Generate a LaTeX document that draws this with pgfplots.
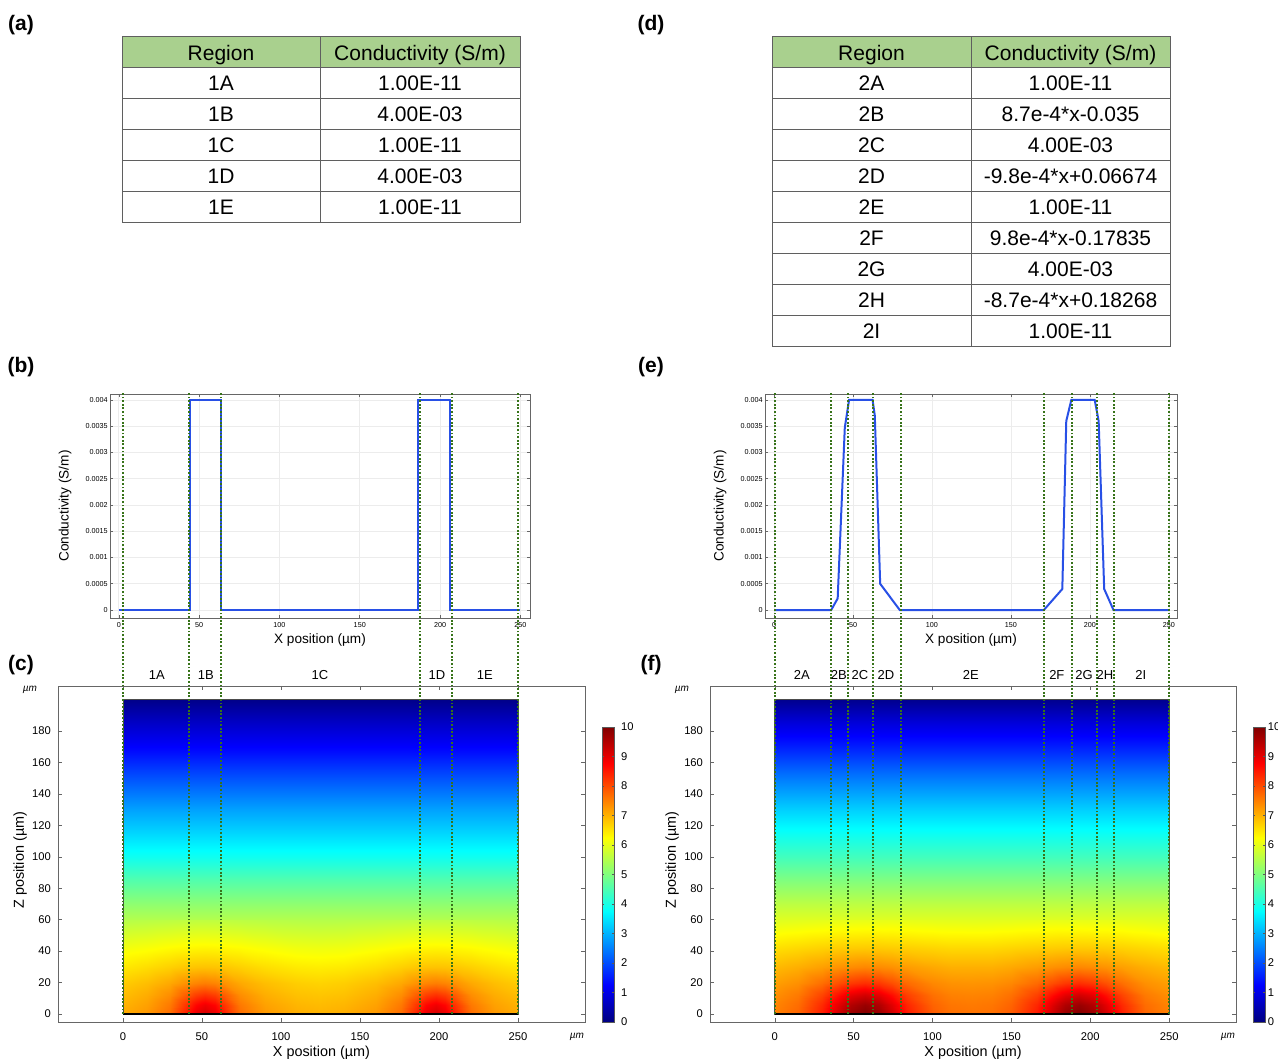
\documentclass[border=0pt]{standalone}
\usepackage{fontspec}
\setmainfont{Liberation Sans}
\usepackage{pgfplots}
\pgfplotsset{compat=1.18}
\definecolor{hdr}{RGB}{169,208,142}
\definecolor{tline}{RGB}{95,95,95}
\definecolor{dotg}{RGB}{55,115,25}
\definecolor{cline}{RGB}{40,80,230}
\pgfplotsset{
 prof/.style={scale only axis, height=112pt, ymin=-0.000152, ymax=0.004114,
  xtick={0,50,100,150,200,250},
  ytick={0,0.0005,0.001,0.0015,0.002,0.0025,0.003,0.0035,0.004},
  yticklabels={0,0.0005,0.001,0.0015,0.002,0.0025,0.003,0.0035,0.004},
  scaled y ticks=false,
  grid=major, grid style={gray!15},
  axis line style={gray!80!black}, tick style={gray!80!black, line width=0.3pt},
  major tick length=1.5pt,
  tick label style={font=\fontsize{3.6}{4}\selectfont, inner sep=1pt},
  xticklabel style={yshift=-1pt},
  /pgf/number format/assume math mode=true,
  label style={font=\fontsize{6.8}{8}\selectfont},
  xlabel={X position (µm)}, ylabel={Conductivity (S/m)},
  xlabel style={at={(axis description cs:0.5,0)}, anchor=center, yshift=-11pt},
 },
 heat/.style={scale only axis, width=263.5pt, height=168pt, xmin=-41.1, xmax=292.4, ymin=-5.1, ymax=208.7,
  xtick={0,50,100,150,200,250}, ytick={0,20,...,180},
  axis line style={gray!80!black}, tick style={gray!80!black, line width=0.3pt}, major tick length=2pt,
  tick label style={font=\fontsize{5.6}{6}\selectfont},
  xticklabel style={yshift=-2pt},
  /pgf/number format/assume math mode=true,
  label style={font=\fontsize{7.2}{8}\selectfont},
  xlabel={X position (µm)}, ylabel={Z position (µm)},
  xlabel style={at={(axis description cs:0.5,0)}, anchor=center, yshift=-15.5pt},
  ylabel style={at={(axis description cs:-0.072,0.482)}, anchor=center},
  colormap/jet, point meta min=0, point meta max=10,
  colorbar, colorbar style={at={([xshift=6.5pt,yshift=-1pt]parent axis.south east)}, anchor=south west,
    scale only axis, width=6pt, height=147.5pt, ytick={0,1,...,10},
    yticklabel style={font=\fontsize{5.6}{6}\selectfont},
    /pgf/number format/assume math mode=true,
    axis line style={gray!70!black}, major tick length=1.2pt, tick style={gray!70!black}},
  clip=false,
 },
 surfst/.style={surf, shader=interp, point meta=explicit, forget plot},
 dl/.style={dotg, line width=0.9pt, dash pattern=on 0.9pt off 0.9pt, forget plot},
}
\tikzset{tt/.style={font=\fontsize{10.5}{12}\selectfont, anchor=base, inner sep=0pt},
 pl/.style={font=\bfseries\fontsize{10.5}{12}\selectfont, inner sep=0pt},
 rl/.style={font=\fontsize{6.5}{7}\selectfont, inner sep=0pt},
 um/.style={font=\itshape\fontsize{5}{5}\selectfont, inner sep=0pt}}
\begin{document}
\begin{tikzpicture}
\useasboundingbox (0,0) rectangle (639pt,531.5pt);
\begin{scope}[x=0.5pt,y=-0.5pt,shift={(0pt,531.5pt)}]
% panel labels
\node[pl] at (21,25) {(a)};
\node[pl] at (21,367) {(b)};
\node[pl] at (21,665) {(c)};
\node[pl] at (651,25) {(d)};
\node[pl] at (651,367) {(e)};
\node[pl] at (651,665) {(f)};
% table (a)
\fill[hdr] (122,37) rectangle (520,68);
\foreach \y in {68,99,130,161,192} \draw[tline, line width=0.5pt] (122,\y) -- (520,\y);
\draw[tline, line width=0.5pt] (122,37) rectangle (520,223);
\draw[tline, line width=0.5pt] (320,37) -- (320,223);
\node[tt] at (221,60.5) {Region};
\node[tt] at (420,60.5) {Conductivity (S/m)};
\foreach \r/\v [count=\i from 0] in {1A/1.00E-11,1B/4.00E-03,1C/1.00E-11,1D/4.00E-03,1E/1.00E-11}{
  \node[tt] at (221,{91+31*\i}) {\r};
  \node[tt] at (420,{91+31*\i}) {\v};
}
% table (d)
\fill[hdr] (772,37) rectangle (1170,68);
\foreach \y in {68,99,130,161,192,223,254,285,316} \draw[tline, line width=0.5pt] (772,\y) -- (1170,\y);
\draw[tline, line width=0.5pt] (772,37) rectangle (1170,347);
\draw[tline, line width=0.5pt] (971,37) -- (971,347);
\node[tt] at (871.5,60.5) {Region};
\node[tt] at (1070.5,60.5) {Conductivity (S/m)};
\foreach \r/\v [count=\i from 0] in {2A/1.00E-11,2B/8.7e-4*x-0.035,2C/4.00E-03,2D/-9.8e-4*x+0.06674,2E/1.00E-11,2F/9.8e-4*x-0.17835,2G/4.00E-03,2H/-8.7e-4*x+0.18268,2I/1.00E-11}{
  \node[tt] at (871.5,{91+31*\i}) {\r};
  \node[tt] at (1070.5,{91+31*\i}) {\v};
}
\end{scope}

% (b)
\begin{axis}[prof, at={(55pt,222.5pt)}, anchor=south west, width=210pt, xmin=-5.5, xmax=256,
  ylabel style={at={(axis description cs:-0.107,0.5)}, anchor=center}]
\addplot[cline, line width=1pt] coordinates {(0,0) (44.3,0) (44.3,0.004) (63.8,0.004) (63.8,0) (186.5,0) (186.5,0.004) (206,0.004) (206,0) (250,0)};
\end{axis}

% (e)
\begin{axis}[prof, at={(382.5pt,222.5pt)}, anchor=south west, width=206pt, xmin=-5.7, xmax=255.1,
  ylabel style={at={(axis description cs:-0.109,0.5)}, anchor=center}]
\addplot[cline, line width=1pt] coordinates {(0,0) (36.2,0) (40.3,0.00022) (44.8,0.00347) (47.5,0.004) (62.4,0.004) (63.8,0.0037) (67.2,0.0005) (79.6,0) (170.8,0) (182.5,0.0004) (185,0.0036) (188.2,0.004) (203,0.004) (205.5,0.0036) (209,0.0004) (214.9,0) (250,0)};
\end{axis}

% (c)
\begin{axis}[heat, at={(29pt,20.5pt)}, anchor=south west]
\addplot[surfst, mesh/cols=2] table[row sep=\\, meta=v] {x y v\\
0 60 5.52\\250 60 5.52\\0 70 5.15\\250 70 5.15\\0 85 4.55\\250 85 4.55\\0 100 3.9\\250 100 3.9\\
0 115 3.35\\250 115 3.35\\0 130 2.85\\250 130 2.85\\0 150 2.05\\250 150 2.05\\0 170 1.25\\250 170 1.25\\
0 185 0.7\\250 185 0.7\\0 200 0.1\\250 200 0.1\\};
\addplot[surfst, mesh/cols=23] table[row sep=\\, meta=v] {x y v\\
0 0 7.08\\15 0 7.27\\30 0 7.69\\40 0 8.46\\46 0 8.98\\52 0 9.20\\58 0 8.98\\64 0 8.46\\74 0 7.69\\90 0 7.26\\110 0 7.05\\125 0 7.00\\140 0 7.05\\160 0 7.26\\176 0 7.69\\186 0 8.46\\192 0 8.98\\198 0 9.20\\204 0 8.98\\210 0 8.46\\220 0 7.69\\235 0 7.27\\250 0 7.08\\
0 6 7.00\\15 6 7.18\\30 6 7.57\\40 6 8.25\\46 6 8.71\\52 6 8.90\\58 6 8.71\\64 6 8.25\\74 6 7.57\\90 6 7.17\\110 6 6.97\\125 6 6.92\\140 6 6.97\\160 6 7.17\\176 6 7.57\\186 6 8.25\\192 6 8.71\\198 6 8.90\\204 6 8.71\\210 6 8.25\\220 6 7.57\\235 6 7.18\\250 6 7.00\\
0 12 6.89\\15 12 7.06\\30 12 7.37\\40 12 7.85\\46 12 8.15\\52 12 8.28\\58 12 8.15\\64 12 7.85\\74 12 7.37\\90 12 7.05\\110 12 6.86\\125 12 6.82\\140 12 6.86\\160 12 7.05\\176 12 7.37\\186 12 7.85\\192 12 8.15\\198 12 8.28\\204 12 8.15\\210 12 7.85\\220 12 7.37\\235 12 7.06\\250 12 6.89\\
0 20 6.75\\15 20 6.89\\30 20 7.10\\40 20 7.33\\46 20 7.45\\52 20 7.51\\58 20 7.45\\64 20 7.33\\74 20 7.10\\90 20 6.89\\110 20 6.73\\125 20 6.68\\140 20 6.73\\160 20 6.89\\176 20 7.10\\186 20 7.33\\192 20 7.45\\198 20 7.51\\204 20 7.45\\210 20 7.33\\220 20 7.10\\235 20 6.89\\250 20 6.75\\
0 30 6.47\\15 30 6.58\\30 30 6.71\\40 30 6.80\\46 30 6.83\\52 30 6.84\\58 30 6.83\\64 30 6.80\\74 30 6.71\\90 30 6.57\\110 30 6.45\\125 30 6.42\\140 30 6.45\\160 30 6.57\\176 30 6.71\\186 30 6.80\\192 30 6.83\\198 30 6.84\\204 30 6.83\\210 30 6.80\\220 30 6.71\\235 30 6.58\\250 30 6.47\\
0 42 6.13\\15 42 6.20\\30 42 6.28\\40 42 6.32\\46 42 6.34\\52 42 6.35\\58 42 6.34\\64 42 6.32\\74 42 6.28\\90 42 6.20\\110 42 6.11\\125 42 6.09\\140 42 6.11\\160 42 6.20\\176 42 6.28\\186 42 6.32\\192 42 6.34\\198 42 6.35\\204 42 6.34\\210 42 6.32\\220 42 6.28\\235 42 6.20\\250 42 6.13\\
0 60 5.53\\15 60 5.56\\30 60 5.59\\40 60 5.61\\46 60 5.62\\52 60 5.62\\58 60 5.62\\64 60 5.61\\74 60 5.59\\90 60 5.56\\110 60 5.53\\125 60 5.52\\140 60 5.53\\160 60 5.56\\176 60 5.59\\186 60 5.61\\192 60 5.62\\198 60 5.62\\204 60 5.62\\210 60 5.61\\220 60 5.59\\235 60 5.56\\250 60 5.53\\};
\draw[gray!60!black, line width=0.4pt] (axis cs:0,0) rectangle (axis cs:250,200);
\draw[black, line width=1.1pt] (axis cs:0,0) -- (axis cs:250,0);
\pgfplotsinvokeforeach{0,42,62,188,208,250}{\addplot[dl] coordinates {(#1,0) (#1,395)};}
\node[rl] at (axis cs:21.5,215.6) {1A};
\node[rl] at (axis cs:52.5,215.6) {1B};
\node[rl] at (axis cs:124.7,215.6) {1C};
\node[rl] at (axis cs:198.7,215.6) {1D};
\node[rl] at (axis cs:229,215.6) {1E};
\node[um] at (axis cs:-58.9,206) {µm};
\node[um] at (axis cs:287.3,-14.6) {µm};
\end{axis}

% (f)
\begin{axis}[heat, at={(355pt,20.5pt)}, anchor=south west, width=263pt,
  colorbar style={at={([xshift=5pt,yshift=-1pt]parent axis.south east)}, yticklabel style={inner sep=1.2pt}}]
\addplot[surfst, mesh/cols=2] table[row sep=\\, meta=v] {x y v\\
0 60 5.95\\250 60 5.95\\0 70 5.6\\250 70 5.6\\0 85 5.0\\250 85 5.0\\0 100 4.4\\250 100 4.4\\
0 115 3.85\\250 115 3.85\\0 130 3.3\\250 130 3.3\\0 150 2.45\\250 150 2.45\\0 170 1.55\\250 170 1.55\\
0 185 0.9\\250 185 0.9\\0 200 0.15\\250 200 0.15\\};
\addplot[surfst, mesh/cols=23] table[row sep=\\, meta=v] {x y v\\
0 0 7.50\\15 0 7.76\\30 0 8.47\\40 0 9.20\\48 0 9.75\\57 0 10.0\\66 0 9.77\\74 0 9.23\\84 0 8.51\\100 0 7.85\\112 0 7.65\\125 0 7.62\\138 0 7.65\\150 0 7.85\\166 0 8.51\\176 0 9.23\\184 0 9.77\\193 0 10.0\\202 0 9.75\\210 0 9.20\\220 0 8.47\\235 0 7.76\\250 0 7.50\\
0 6 7.45\\15 6 7.69\\30 6 8.35\\40 6 9.02\\48 6 9.52\\57 6 9.76\\66 6 9.54\\74 6 9.05\\84 6 8.39\\100 6 7.78\\112 6 7.60\\125 6 7.56\\138 6 7.60\\150 6 7.78\\166 6 8.39\\176 6 9.05\\184 6 9.54\\193 6 9.76\\202 6 9.52\\210 6 9.02\\220 6 8.35\\235 6 7.69\\250 6 7.45\\
0 12 7.35\\15 12 7.56\\30 12 8.09\\40 12 8.61\\48 12 9.00\\57 12 9.19\\66 12 9.01\\74 12 8.63\\84 12 8.13\\100 12 7.65\\112 12 7.49\\125 12 7.46\\138 12 7.49\\150 12 7.65\\166 12 8.13\\176 12 8.63\\184 12 9.01\\193 12 9.19\\202 12 9.00\\210 12 8.61\\220 12 8.09\\235 12 7.56\\250 12 7.35\\
0 20 7.19\\15 20 7.34\\30 20 7.67\\40 20 7.97\\48 20 8.19\\57 20 8.30\\66 20 8.20\\74 20 7.99\\84 20 7.71\\100 20 7.42\\112 20 7.32\\125 20 7.30\\138 20 7.32\\150 20 7.42\\166 20 7.71\\176 20 7.99\\184 20 8.20\\193 20 8.30\\202 20 8.19\\210 20 7.97\\220 20 7.67\\235 20 7.34\\250 20 7.19\\
0 30 6.93\\15 30 7.04\\30 30 7.19\\40 30 7.31\\48 30 7.38\\57 30 7.43\\66 30 7.39\\74 30 7.33\\84 30 7.22\\100 30 7.10\\112 30 7.03\\125 30 7.03\\138 30 7.03\\150 30 7.10\\166 30 7.22\\176 30 7.33\\184 30 7.39\\193 30 7.43\\202 30 7.38\\210 30 7.31\\220 30 7.19\\235 30 7.04\\250 30 6.93\\
0 42 6.56\\15 42 6.63\\30 42 6.70\\40 42 6.74\\48 42 6.76\\57 42 6.77\\66 42 6.77\\74 42 6.75\\84 42 6.72\\100 42 6.67\\112 42 6.63\\125 42 6.63\\138 42 6.63\\150 42 6.67\\166 42 6.72\\176 42 6.75\\184 42 6.77\\193 42 6.77\\202 42 6.76\\210 42 6.74\\220 42 6.70\\235 42 6.63\\250 42 6.56\\
0 60 5.93\\15 60 5.96\\30 60 5.99\\40 60 6.01\\48 60 6.01\\57 60 6.02\\66 60 6.01\\74 60 6.02\\84 60 6.00\\100 60 5.98\\112 60 5.97\\125 60 5.96\\138 60 5.97\\150 60 5.98\\166 60 6.00\\176 60 6.02\\184 60 6.01\\193 60 6.02\\202 60 6.01\\210 60 6.01\\220 60 5.99\\235 60 5.96\\250 60 5.93\\};
\draw[gray!60!black, line width=0.4pt] (axis cs:0,0) rectangle (axis cs:250,200);
\draw[black, line width=1.1pt] (axis cs:0,0) -- (axis cs:250,0);
\pgfplotsinvokeforeach{0,35.8,46.5,62.2,79.9,170.7,188.3,204.1,215,250}{\addplot[dl] coordinates {(#1,0) (#1,395)};}
\node[rl] at (axis cs:17.1,215.6) {2A};
\node[rl] at (axis cs:40.6,215.6) {2B};
\node[rl] at (axis cs:53.9,215.6) {2C};
\node[rl] at (axis cs:70.4,215.6) {2D};
\node[rl] at (axis cs:124.3,215.6) {2E};
\node[rl] at (axis cs:178.8,215.6) {2F};
\node[rl] at (axis cs:196,215.6) {2G};
\node[rl] at (axis cs:209.3,215.6) {2H};
\node[rl] at (axis cs:232,215.6) {2I};
\node[um] at (axis cs:-58.9,206) {µm};
\node[um] at (axis cs:287.3,-14.6) {µm};
\end{axis}
\end{tikzpicture}
\end{document}
